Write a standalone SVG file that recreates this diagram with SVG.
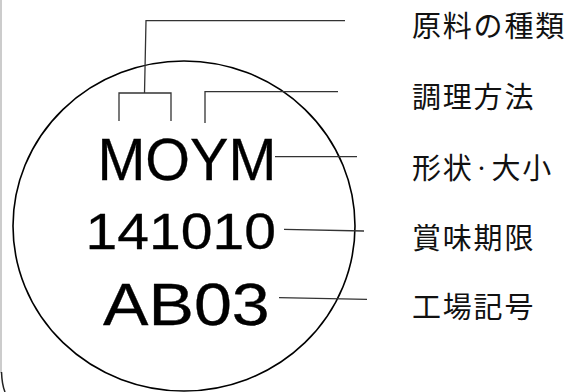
<svg xmlns="http://www.w3.org/2000/svg" width="569" height="392" viewBox="0 0 569 392">
<defs>
<style>
.code{font-family:"Liberation Sans",Arial,sans-serif;fill:#000;stroke:#000;stroke-width:0.3}
.lbl{font-family:"Noto Sans CJK JP","Noto Sans",sans-serif;font-size:29px;fill:#111;letter-spacing:1.8px}
.conn{fill:none;stroke:#333;stroke-width:1.3}
</style>
</defs>
<rect width="569" height="392" fill="#fff"/>
<g id="frame">
<line x1="1" y1="0" x2="1" y2="373" stroke="#bbb" stroke-width="1.5"/>
<path d="M1.5,372 Q2,385 5,392" fill="none" stroke="#222" stroke-width="1.5"/>
</g>
<g id="seal">
<ellipse cx="184" cy="226" rx="171" ry="165" fill="none" stroke="#000" stroke-width="1.6"/>
</g>
<g id="code-moym"><text class="code" x="97.4" y="180" font-size="59.6" textLength="179" lengthAdjust="spacingAndGlyphs">MOYM</text></g>
<g id="code-date"><text class="code" x="85.5" y="249" font-size="50" textLength="190.5" lengthAdjust="spacingAndGlyphs">141010</text></g>
<g id="code-factory"><text class="code" x="103" y="325" font-size="59" textLength="166.7" lengthAdjust="spacingAndGlyphs">AB03</text></g>
<g id="label-material"><text class="lbl" x="412" y="37">原料の種類</text></g>
<g id="label-cooking"><text class="lbl" x="412" y="108">調理方法</text></g>
<g id="label-shape"><text class="lbl" x="412" y="179">形状<tspan font-size="16" dy="-5">・</tspan><tspan dy="5">大小</tspan></text></g>
<g id="label-expiry"><text class="lbl" x="412" y="249">賞味期限</text></g>
<g id="label-factory"><text class="lbl" x="412" y="318">工場記号</text></g>
<g id="connectors">
<polyline class="conn" points="345,20.7 146,20.7 144.5,93"/>
<polyline class="conn" points="119,121 119,93 171,93 171,121"/>
<polyline class="conn" points="338,91.7 205,91.7 205,123"/>
<line class="conn" x1="275" y1="156.7" x2="357" y2="156.7"/>
<line class="conn" x1="284" y1="229.3" x2="364" y2="231"/>
<line class="conn" x1="279" y1="297.7" x2="367" y2="299.3"/>
</g>
</svg>
